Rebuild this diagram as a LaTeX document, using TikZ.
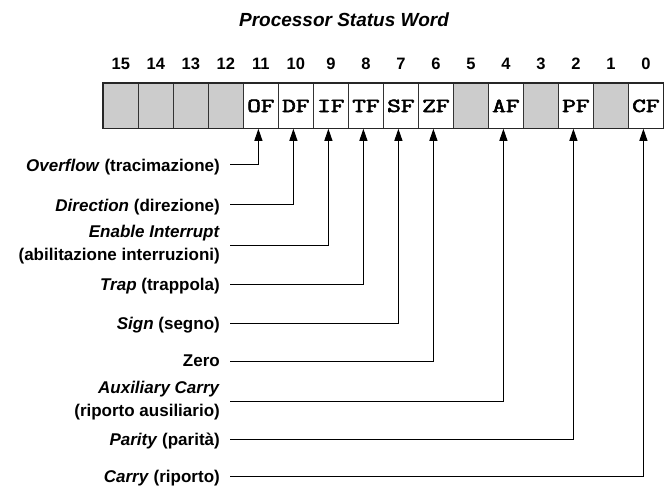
\documentclass[tikz,border=0pt]{standalone}
\usepackage{fontspec}
\setmainfont{Liberation Sans}
\newfontfamily\flagfont[FakeBold=2.5]{Latin Modern Mono}
\usetikzlibrary{arrows.meta}
\definecolor{resgray}{HTML}{CCCCCC}
\newcommand\flagtxt[1]{\scalebox{1.33}[1]{\flagfont\fontsize{20}{20}\selectfont #1}}
\begin{document}
\begin{tikzpicture}[x=1pt,y=1pt,
  cell/.style={draw=black!80, line width=0.8pt, minimum width=35pt, minimum height=45pt,
    inner sep=0pt, anchor=north west},
  res/.style={cell, fill=resgray},
  bitnum/.style={inner sep=0pt, font=\bfseries\fontsize{16.5}{16.5}\selectfont},
  lab/.style={anchor=east, align=right, inner sep=0pt, font=\bfseries\fontsize{17}{23}\selectfont},
  lab1/.style={lab, text depth=0pt},
  arr/.style={line width=1pt, draw=black, -{Triangle[length=12pt,width=8pt]}}]
\useasboundingbox (0,0) rectangle (668,-486);
% title
\node[inner sep=0pt, font=\bfseries\itshape\fontsize{19}{19}\selectfont] (title) at (344,-20) {Processor Status Word};
% register cells
\node[res]  (c15) at (103,-83) {};
\node[res]  (c14) at (138,-83) {};
\node[res]  (c13) at (173,-83) {};
\node[res]  (c12) at (208,-83) {};
\node[cell] (c11) at (243,-83) {\flagtxt{OF}};
\node[cell] (c10) at (278,-83) {\flagtxt{DF}};
\node[cell] (c9)  at (313,-83) {\flagtxt{IF}};
\node[cell] (c8)  at (348,-83) {\flagtxt{TF}};
\node[cell] (c7)  at (383,-83) {\flagtxt{SF}};
\node[cell] (c6)  at (418,-83) {\flagtxt{ZF}};
\node[res]  (c5)  at (453,-83) {};
\node[cell] (c4)  at (488,-83) {\flagtxt{AF}};
\node[res]  (c3)  at (523,-83) {};
\node[cell] (c2)  at (558,-83) {\flagtxt{PF}};
\node[res]  (c1)  at (593,-83) {};
\node[cell] (c0)  at (628,-83) {\flagtxt{CF}};
\draw[line width=1.3pt, black!85] (c15.north west) rectangle (c0.south east);
% bit numbers
\foreach \b in {15,14,13,12,11,10,9,8,7,6,5,4,3,2,1,0}
  \node[bitnum] (n\b) at ([yshift=19.5pt]c\b.north) {\b};
% labels
\node[lab1] (l11) at (220,-165) {\textit{Overflow} (tracimazione)};
\node[lab1] (l10) at (220,-205) {\textit{Direction} (direzione)};
\node[lab]  (l9)  at (220,-245) {\textit{Enable Interrupt}\\(abilitazione interruzioni)};
\node[lab1] (l8)  at (220,-284) {\textit{Trap} (trappola)};
\node[lab1] (l7)  at (220,-323) {\textit{Sign} (segno)};
\node[lab1] (l6)  at (220,-361) {Zero};
\node[lab]  (l4)  at (220,-401) {\textit{Auxiliary Carry}\\(riporto ausiliario)};
\node[lab1] (l2)  at (220,-439) {\textit{Parity} (parità)};
\node[lab1] (l0)  at (220,-476) {\textit{Carry} (riporto)};
% connectors
\foreach \b in {11,10,9,8,7,6,4,2,0}
  \draw[arr] ([xshift=10pt]l\b.east) -| ([xshift=-2.5pt]c\b.south);
\end{tikzpicture}
\end{document}
